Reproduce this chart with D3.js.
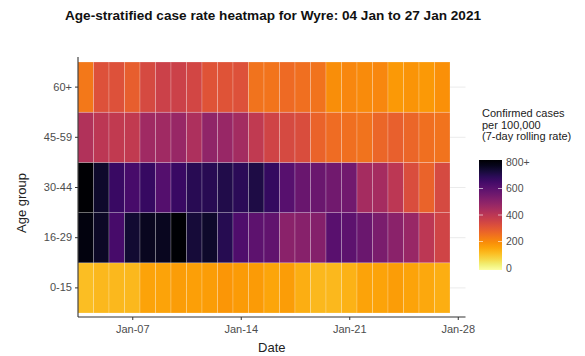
<!DOCTYPE html>
<html>
<head>
<meta charset="utf-8">
<script src="https://cdn.jsdelivr.net/npm/d3@7"></script>
<style>
  html, body { margin: 0; padding: 0; background: #fff; }
  svg { display: block; font-family: "Liberation Sans", Arial, sans-serif; }
</style>
</head>
<body>
<script>
// ---- data ----
const dates = ["2021-01-04","2021-01-05","2021-01-06","2021-01-07","2021-01-08","2021-01-09","2021-01-10","2021-01-11","2021-01-12","2021-01-13","2021-01-14","2021-01-15","2021-01-16","2021-01-17","2021-01-18","2021-01-19","2021-01-20","2021-01-21","2021-01-22","2021-01-23","2021-01-24","2021-01-25","2021-01-26","2021-01-27"];
const ageGroups = ["0-15", "16-29", "30-44", "45-59", "60+"];
const rate0to15  = [120, 130, 130, 130, 165, 165, 175, 170, 175, 185, 178, 178, 160, 172, 145, 130, 130, 140, 165, 165, 175, 165, 155, 145];
const rate16to29 = [780, 745, 630, 730, 755, 755, 800, 720, 740, 690, 615, 585, 580, 500, 505, 510, 595, 585, 560, 530, 500, 470, 400, 355];
const rate30to44 = [820, 740, 655, 630, 660, 605, 655, 685, 685, 700, 680, 705, 665, 600, 565, 560, 550, 550, 445, 445, 400, 330, 280, 340];
const rate45to59 = [420, 400, 385, 385, 455, 455, 470, 430, 485, 470, 450, 390, 355, 340, 330, 280, 260, 255, 250, 275, 285, 275, 255, 250];
const rate60plus = [240, 320, 320, 290, 340, 365, 365, 350, 315, 315, 320, 250, 245, 265, 255, 250, 200, 210, 205, 210, 180, 190, 180, 195];
const xTickDates = ["2021-01-07", "2021-01-14", "2021-01-21", "2021-01-28"];
const legendTicks = [0, 200, 400, 600, 800];
const legendTickLabels = ["0", "200", "400", "600", "800+"];
const titleText = "Age-stratified case rate heatmap for Wyre: 04 Jan to 27 Jan 2021";
const legendTitle = ["Confirmed cases", "per 100,000", "(7-day rolling rate)"];

const seriesByGroup = {"0-15": rate0to15, "16-29": rate16to29, "30-44": rate30to44, "45-59": rate45to59, "60+": rate60plus};
const parse = d3.utcParse("%Y-%m-%d");
const cells = [];
ageGroups.forEach(g => dates.forEach((d, i) => cells.push({group: g, date: parse(d), value: seriesByGroup[g][i]})));

// ---- layout ----
const W = 585, H = 356;
const panel = {left: 78, right: 465.5, top: 57, bottom: 317};
const svg = d3.select("body").append("svg").attr("width", W).attr("height", H);

const halfDay = 12 * 3600 * 1000;
const x = d3.scaleUtc()
  .domain([new Date(parse("2021-01-04").getTime() - halfDay), new Date(parse("2021-01-28").getTime() + halfDay)])
  .range([panel.left, panel.right]);
const y = d3.scaleBand().domain(ageGroups).range([313, 62]).padding(0);
const color = v => d3.interpolateInferno(1 - Math.max(0, Math.min(800, v)) / 800);

// gridlines (horizontal)
svg.append("g").selectAll("line").data(ageGroups).join("line")
  .attr("x1", panel.left).attr("x2", panel.right)
  .attr("y1", d => y(d) + y.bandwidth() / 2).attr("y2", d => y(d) + y.bandwidth() / 2)
  .attr("stroke", "#ebebeb").attr("stroke-width", 1);

// tiles
svg.append("g").selectAll("rect").data(cells).join("rect")
  .attr("x", d => x(new Date(d.date.getTime() - halfDay)))
  .attr("width", d => x(new Date(d.date.getTime() + halfDay)) - x(new Date(d.date.getTime() - halfDay)))
  .attr("y", d => y(d.group))
  .attr("height", y.bandwidth())
  .attr("fill", d => color(d.value))
  .attr("stroke", "rgba(255,255,255,0.3)")
  .attr("stroke-width", 0.7);

// axes
const xAxis = d3.axisBottom(x).tickValues(xTickDates.map(parse)).tickFormat(d3.utcFormat("%b-%d")).tickSize(3).tickPadding(5);
const gx = svg.append("g").attr("transform", `translate(0,${panel.bottom})`).call(xAxis);
gx.select(".domain").remove();
gx.append("line").attr("x1", panel.left).attr("x2", panel.right).attr("stroke", "#333").attr("stroke-width", 1.1);
gx.selectAll(".tick line").attr("stroke", "#333");
gx.selectAll(".tick text").attr("fill", "#4d4d4d").attr("font-size", 11).attr("font-family", "Liberation Sans, Arial, sans-serif");

const yAxis = d3.axisLeft(y).tickSize(3).tickPadding(3);
const gy = svg.append("g").attr("transform", `translate(${panel.left},0)`).call(yAxis);
gy.select(".domain").remove();
gy.append("line").attr("y1", panel.top).attr("y2", panel.bottom).attr("stroke", "#333").attr("stroke-width", 1.1);
gy.selectAll(".tick line").attr("stroke", "#333");
gy.selectAll(".tick text").attr("fill", "#4d4d4d").attr("font-size", 11).attr("font-family", "Liberation Sans, Arial, sans-serif");

// axis titles
svg.append("text").attr("x", (panel.left + panel.right) / 2).attr("y", 352)
  .attr("text-anchor", "middle").attr("font-size", 13).attr("fill", "#222").text("Date");
svg.append("text").attr("transform", "translate(26,203) rotate(-90)")
  .attr("text-anchor", "middle").attr("font-size", 13).attr("fill", "#222").text("Age group");

// title
svg.append("text").attr("x", 273).attr("y", 20).attr("text-anchor", "middle")
  .attr("font-size", 13.6).attr("font-weight", "bold").attr("fill", "#111").text(titleText);

// legend
const lg = svg.append("g");
lg.selectAll("text.lt").data(legendTitle).join("text").attr("class", "lt")
  .attr("x", 482).attr("y", (d, i) => 117 + i * 11.5)
  .attr("font-size", 11).attr("fill", "#222").text(d => d);

const barX = 479, barW = 23, barTop = 160, barBottom = 270;
const ly = d3.scaleLinear().domain([0, 800]).range([268, 162]);
const defs = svg.append("defs");
const grad = defs.append("linearGradient").attr("id", "lgrad").attr("x1", 0).attr("x2", 0).attr("y1", 1).attr("y2", 0);
d3.range(0, 1.0001, 0.05).forEach(t => grad.append("stop").attr("offset", t).attr("stop-color", color(t * 800)));
lg.append("rect").attr("x", barX).attr("y", barTop).attr("width", barW).attr("height", barBottom - barTop).attr("fill", "url(#lgrad)");
lg.selectAll("line.tl").data(legendTicks.slice(1, 4)).join("line").attr("class", "tl")
  .attr("x1", barX).attr("x2", barX + 4).attr("y1", d => ly(d)).attr("y2", d => ly(d))
  .attr("stroke", "rgba(255,255,255,0.6)");
lg.selectAll("line.tr").data(legendTicks.slice(1, 4)).join("line").attr("class", "tr")
  .attr("x1", barX + barW - 4).attr("x2", barX + barW).attr("y1", d => ly(d)).attr("y2", d => ly(d))
  .attr("stroke", "rgba(255,255,255,0.6)");
lg.selectAll("text.tk").data(legendTicks).join("text").attr("class", "tk")
  .attr("x", 506).attr("y", d => ly(d)).attr("dy", "0.35em")
  .attr("font-size", 10.5).attr("fill", "#4d4d4d").text((d, i) => legendTickLabels[i]);
</script>
</body>
</html>
